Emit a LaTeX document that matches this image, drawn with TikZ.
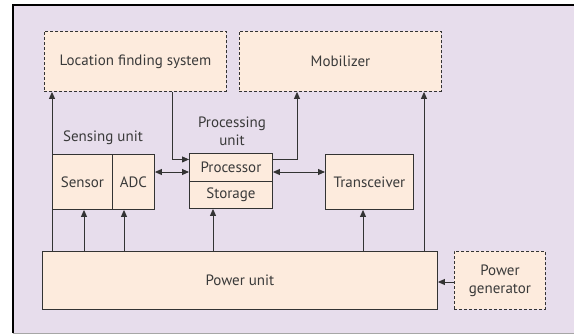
\documentclass[tikz,border=0pt]{standalone}
\usepackage{fontspec}
\setmainfont{PT Sans}
\usetikzlibrary{arrows.meta}
\definecolor{bg}{HTML}{E7DDEC}
\definecolor{boxfill}{HTML}{FDEBDD}
\definecolor{ln}{HTML}{333333}
\definecolor{txt}{HTML}{3A3A3A}
\begin{document}
\begin{tikzpicture}[x=1pt,y=-1pt,
  every node/.style={font=\fontsize{15}{17}\selectfont, text=txt},
  box/.style={draw=ln, fill=boxfill, line width=0.9pt, inner sep=0pt, anchor=north west},
  dbox/.style={box, dashed, dash pattern=on 3pt off 2pt},
  arr/.style={draw=ln, line width=0.9pt, -{Triangle[length=7pt,width=6pt]}},
  darr/.style={draw=ln, line width=0.9pt, {Triangle[length=7pt,width=6pt]}-{Triangle[length=7pt,width=6pt]}},
  plain/.style={draw=ln, line width=0.9pt}]
\useasboundingbox (0,0) rectangle (574,335);
% frame
\fill[bg] (12,5) rectangle (574,333);
\draw[black, line width=2pt] (12.5,333) -- (12.5,5) -- (574,5);
\draw[gray!70, line width=0.8pt] (12.5,333) -- (574,333);
% boxes
\node[dbox, minimum width=182, minimum height=60] (lfs) at (44,31) {};
\node at (lfs.center) {Location finding system};
\node[dbox, minimum width=202, minimum height=60] (mob) at (239,31) {};
\node at (mob.center) {Mobilizer};
\node[box, minimum width=60, minimum height=55] (sen) at (52,154) {};
\node at (sen.center) {Sensor};
\node[box, minimum width=42, minimum height=55] (adc) at (112,154) {};
\node at (adc.center) {ADC};
\node[box, minimum width=83, minimum height=28] (proc) at (189,153) {};
\node at (proc.center) {Processor};
\node[box, minimum width=83, minimum height=27] (stor) at (189,181) {};
\node at (stor.center) {Storage};
\node[box, minimum width=88, minimum height=55] (trx) at (325,154) {};
\node at (trx.center) {Transceiver};
\node[box, minimum width=395, minimum height=58] (pu) at (42,251) {};
\node at (pu.center) {Power unit};
\node[dbox, minimum width=91, minimum height=58] (pg) at (454,251) {};
\node[align=center, font=\fontsize{15}{18}\selectfont] at (pg.center) {Power\\generator};
% labels
\node (sul) at (103,138) {Sensing unit};
\node[align=center, font=\fontsize{15}{18}\selectfont] (pul) at (232,131) {Processing\\unit};
% coordinates
\coordinate (lx) at (172,0);
\coordinate (mx) at (297,0);
\coordinate (ay) at (0,172);
\coordinate (x1) at (84,0);
\coordinate (x2) at (124,0);
\coordinate (x3) at (213,0);
\coordinate (x4) at (363,0);
\coordinate (x5) at (424,0);
\coordinate (gy) at (0,282);
% connectors
\draw[arr] (pu.north -| sen.west) -- (lfs.south -| sen.west);
\draw[arr] (lfs.south -| lx) |- ([yshift=8pt]proc.west);
\draw[arr] ([yshift=8pt]proc.east) -| (mob.south -| mx);
\draw[darr] (adc.east |- ay) -- (proc.west |- ay);
\draw[darr] (proc.east |- ay) -- (trx.west |- ay);
\draw[arr] (pu.north -| x1) -- (sen.south -| x1);
\draw[arr] (pu.north -| x2) -- (adc.south -| x2);
\draw[arr] (pu.north -| x3) -- (stor.south -| x3);
\draw[arr] (pu.north -| x4) -- (trx.south -| x4);
\draw[arr] (pu.north -| x5) -- (mob.south -| x5);
\draw[arr] (pg.west |- gy) -- (pu.east |- gy);
\end{tikzpicture}
\end{document}
